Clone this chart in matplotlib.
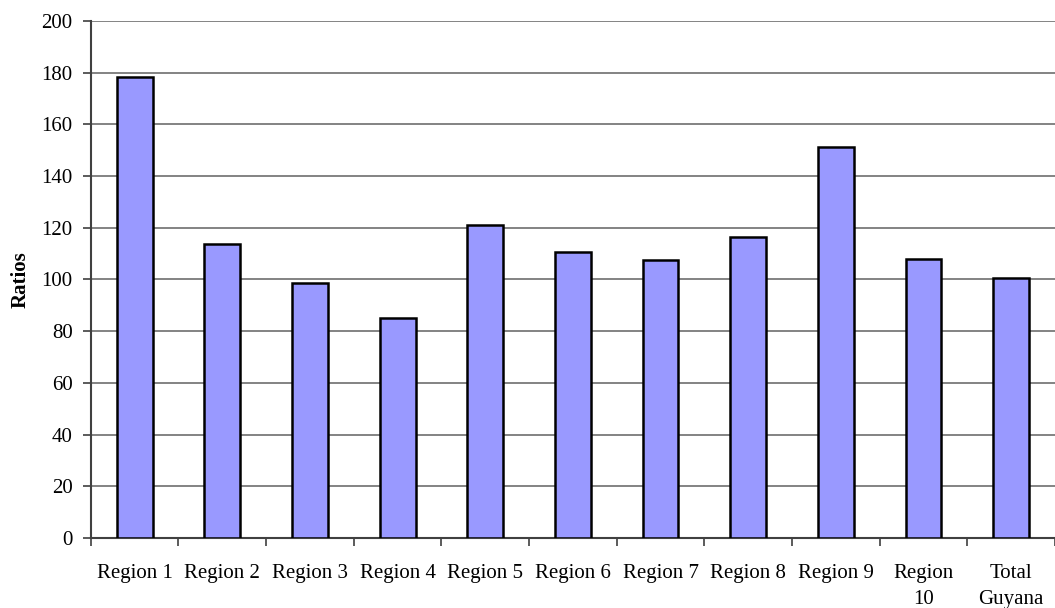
import numpy as np
import matplotlib
matplotlib.use('Agg')
import matplotlib.pyplot as plt

regions = ['Region 1', 'Region 2', 'Region 3', 'Region 4', 'Region 5', 'Region 6',
           'Region 7', 'Region 8', 'Region 9', 'Region\n10', 'Total\nGuyana']
ratios = [178.3, 113.9, 98.5, 85.0, 121.0, 110.8, 107.4, 116.6, 151.4, 107.9, 100.7]
yticks = [0, 20, 40, 60, 80, 100, 120, 140, 160, 180, 200]

plt.rcParams['font.family'] = ['Liberation Serif', 'DejaVu Serif']

fig = plt.figure(figsize=(10.55, 6.08), dpi=100)
ax = fig.add_axes([0.086, 0.1151, 0.914, 0.8504])

x = np.arange(len(regions))
ax.bar(x, ratios, width=0.41, color='#9999FF', edgecolor='black', linewidth=1.8, zorder=3)

ax.set_xlim(-0.5, len(regions) - 0.5)
ax.set_ylim(0, 200)
ax.set_yticks(yticks)
ax.yaxis.grid(True, color='#6e6e6e', linewidth=1.2, zorder=0)
ax.set_axisbelow(True)

# category labels at centres, tick marks between categories
ax.set_xticks(x)
ax.set_xticklabels(regions, fontsize=15)
for lbl in ax.get_xticklabels():
    lbl.set_linespacing(1.45)
ax.set_xticks(np.arange(-0.5, len(regions) - 0.4, 1.0), minor=True)
ax.tick_params(axis='x', which='major', length=0, pad=19)
ax.tick_params(axis='x', which='minor', length=6, width=1.2, color='#404040', direction='out')
ax.tick_params(axis='y', length=6, width=1.2, color='#404040', direction='out', pad=7, labelsize=15)

for s in ['top', 'right']:
    ax.spines[s].set_visible(False)
for s in ['left', 'bottom']:
    ax.spines[s].set_color('#404040')
    ax.spines[s].set_linewidth(1.5)

ax.set_ylabel('Ratios', fontsize=15, fontweight='bold', labelpad=8)

fig.savefig('out.png', dpi=100)
